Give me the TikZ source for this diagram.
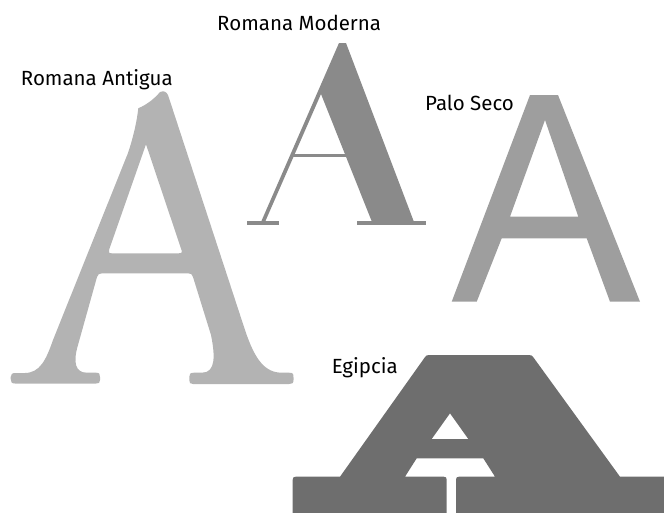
\documentclass[tikz,border=0pt]{standalone}
\usepackage{fontspec}
\setmainfont{Fira Sans}
\begin{document}
\begin{tikzpicture}[x=1pt,y=-1pt,
  lbl/.style={anchor=base west,inner sep=0pt,font=\fontsize{20.5}{24}\selectfont},
  antigua/.style={fill={rgb,255:red,179;green,179;blue,179}},
  moderna/.style={fill={rgb,255:red,138;green,138;blue,138}},
  paloseco/.style={fill={rgb,255:red,158;green,158;blue,158}},
  egipcia/.style={fill={rgb,255:red,110;green,110;blue,110}}]
\useasboundingbox (0,0) rectangle (664,512);

% Romana Antigua
\path[antigua, even odd rule]
 (160,92) .. controls (164,90.5) and (166,91.5) .. (168,95)
 -- (245,330) .. controls (255,360) and (265,372.7) .. (282,372.7)
 -- (289,372.7) .. controls (293.3,372.7) and (293.5,374) .. (293.5,377.5)
 -- (293.5,380) .. controls (293.5,383.5) and (292,384) .. (289,384)
 -- (193,384) .. controls (190,384) and (189.3,383) .. (189.3,380)
 -- (189.3,377) .. controls (189.3,374) and (190,372.7) .. (194,372.7)
 -- (202,372.7) .. controls (216,372.7) and (215,355) .. (211,335)
 -- (193,277) .. controls (192,274) and (191,273.3) .. (188,273.3)
 -- (102,273.3) .. controls (99,273.3) and (98,274.5) .. (97,277)
 -- (78,345) .. controls (73,362) and (75,372.7) .. (87,372.7)
 -- (96,372.7) .. controls (99.5,372.7) and (100,374) .. (100,377)
 -- (100,380) .. controls (100,383) and (99,383.5) .. (96,383.5)
 -- (15,383.5) .. controls (11.5,383.5) and (10.7,382) .. (10.7,379)
 -- (10.7,377) .. controls (10.7,374) and (12,373) .. (16,373)
 -- (25,373) .. controls (40,372.7) and (46,360) .. (53,340)
 -- (128,153) .. controls (134,135) and (137,120) .. (138.3,108.3)
 .. controls (148,104) and (155,98) .. (160,92) -- cycle
 (146,144.3) -- (181.5,250) .. controls (182.5,253) and (181,253.3) .. (178,253.3)
 -- (112,253.3) .. controls (109,253.3) and (108,252.5) .. (109,250) -- cycle;
\node[lbl] (lantigua) at (20.7,85.5) {Romana Antigua};

% Romana Moderna
\path[moderna] (339,43) -- (346,43) -- (414,222) -- (372,222) -- (321,94)
 -- (265,222) -- (261,222) -- cycle;
\path[moderna] (291,154) rectangle (346,157);
\path[moderna] (246.7,221) rectangle (279.3,224.5);
\path[moderna] (356.7,221) rectangle (426,224.5);
\node[lbl] (lmoderna) at (217,30) {Romana Moderna};

% Palo Seco
\path[paloseco, even odd rule] (530,95) -- (558,95) -- (640,301.7) -- (610,301.7)
 -- (586.7,238.3) -- (501.7,238.3) -- (476.7,301.7) -- (451.7,301.7) -- cycle
 (545,120) -- (578.3,216.7) -- (510,216.7) -- cycle;
\node[lbl] (lpalo) at (425,110) {Palo Seco};

% Egipcia
\path[egipcia, even odd rule]
 (292.7,520) -- (292.7,479.7) .. controls (292.7,477.5) and (293.5,476.7) .. (295.7,476.7)
 -- (340,476.7) -- (424.7,357.5) .. controls (425.7,355.8) and (426.5,355) .. (429,355)
 -- (529,355) .. controls (531.5,355) and (532.5,355.8) .. (533.5,357.5)
 -- (620,476.7) -- (670,476.7) -- (670,520) -- cycle
 (450,413.3) -- (468.3,439) -- (431.7,439) -- cycle
 (416.7,458.3) -- (483.3,458.3) -- (495,476.7) -- (459,476.7)
 .. controls (456.8,476.7) and (456,477.5) .. (456,479.7) -- (456,524)
 -- (446.7,524) -- (446.7,479.7) .. controls (446.7,477.5) and (445.9,476.7) .. (443.7,476.7)
 -- (405,476.7) -- cycle;
\node[lbl] (legipcia) at (331.7,373.3) {Egipcia};
\end{tikzpicture}
\end{document}
